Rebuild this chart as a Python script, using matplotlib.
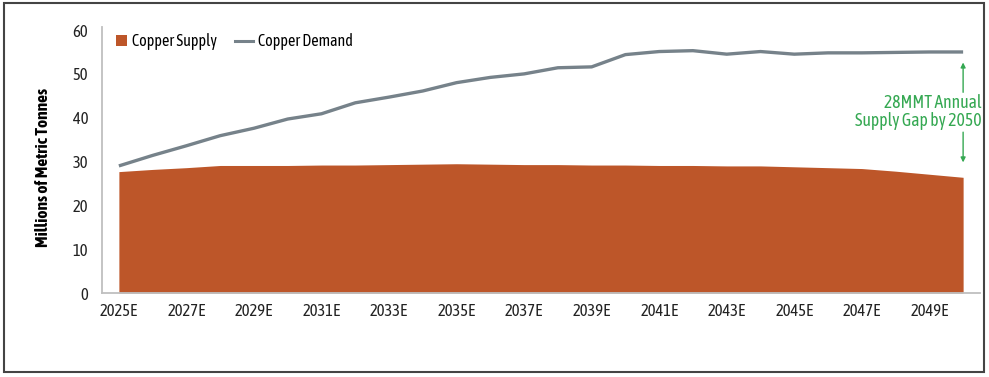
import matplotlib
matplotlib.use("Agg")
import matplotlib.pyplot as plt
from matplotlib.patches import Rectangle, Patch
from matplotlib.lines import Line2D
from matplotlib.legend_handler import HandlerPatch

years = list(range(2025, 2051))
tick_labels = [f"{y}E" for y in range(2025, 2050, 2)]
supply = [27.7, 28.2, 28.6, 29.1, 29.1, 29.1, 29.2, 29.2, 29.3, 29.4, 29.5, 29.4, 29.3,
          29.3, 29.2, 29.2, 29.1, 29.1, 29.0, 29.0, 28.8, 28.6, 28.4, 27.8, 27.1, 26.4]
demand = [29.0, 31.4, 33.6, 35.9, 37.6, 39.7, 40.9, 43.4, 44.7, 46.1, 48.0, 49.2, 50.0,
          51.4, 51.6, 54.4, 55.1, 55.3, 54.5, 55.1, 54.5, 54.8, 54.8, 54.9, 55.0, 55.0]

FAM = ['Asap Condensed', 'Barlow Semi Condensed', 'Archivo Narrow', 'DejaVu Sans']
plt.rcParams['font.family'] = FAM

SUP_C = '#BD5629'
DEM_C = '#76828A'
GREEN = '#35A852'

fig = plt.figure(figsize=(9.89, 3.77), dpi=100)
W, H = 989, 377
ax = fig.add_axes([102 / W, (H - 293) / H, (980 - 102) / W, (293 - 27) / H])

x = list(range(len(years)))
ax.fill_between(x, 0, supply, color=SUP_C, linewidth=0, zorder=2)
ax.plot(x, demand, color=DEM_C, linewidth=2.4, zorder=3, solid_capstyle='butt')

ax.set_xlim(-0.5, len(years) - 0.5)
ax.set_ylim(0, 60.7)
ax.set_yticks(range(0, 61, 10))
ax.set_xticks(range(0, len(years), 2))
ax.set_xticklabels(tick_labels)
ax.tick_params(axis='both', length=0, labelsize=12, labelcolor='#222222')
ax.tick_params(axis='y', pad=10)
ax.tick_params(axis='x', pad=7)
for s in ['top', 'right']:
    ax.spines[s].set_visible(False)
for s in ['left', 'bottom']:
    ax.spines[s].set_color('#BFBFBF')
    ax.spines[s].set_linewidth(1.3)
ax.set_ylabel('Millions of Metric Tonnes', fontsize=12.5, fontweight='bold')
ax.yaxis.set_label_coords(-0.058, 0.472)


def square_patch(legend, orig_handle, xdescent, ydescent, width, height, fontsize):
    s = 8.0  # points
    return Rectangle((-xdescent + width - s, -ydescent + (height - s) / 2), s, s)


handles = [Patch(facecolor=SUP_C, edgecolor='none', label='Copper Supply'),
           Line2D([0], [0], color=DEM_C, linewidth=2.2, label='Copper Demand')]
leg = ax.legend(handles=handles, loc='upper left', ncol=2, frameon=False,
                fontsize=11.5, bbox_to_anchor=(-0.0046, 1.018), handlelength=1.1,
                handleheight=0.8, handletextpad=0.35, columnspacing=1.11,
                borderaxespad=0.3,
                handler_map={Patch: HandlerPatch(patch_func=square_patch)})

# Gap annotation
gx = len(years) - 1
ax.annotate('', xy=(gx, 52.6), xytext=(gx, 45.8),
            arrowprops=dict(arrowstyle='-|>', color=GREEN, lw=1.0,
                            mutation_scale=7, shrinkA=0, shrinkB=0), zorder=4)
ax.annotate('', xy=(gx, 29.8), xytext=(gx, 36.7),
            arrowprops=dict(arrowstyle='-|>', color=GREEN, lw=1.0,
                            mutation_scale=7, shrinkA=0, shrinkB=0), zorder=4)
fig.text(982 / W, (H - 112) / H, '28MMT Annual\nSupply Gap by 2050', color=GREEN,
         fontsize=12.7, ha='right', va='center', linespacing=0.95)

# figure border
fig.patches.append(Rectangle((4 / W, (H - 372) / H), (984 - 4) / W, (372 - 3) / H,
                             transform=fig.transFigure, fill=False,
                             edgecolor='#444444', linewidth=1.5))

fig.savefig('out.png', dpi=100)
